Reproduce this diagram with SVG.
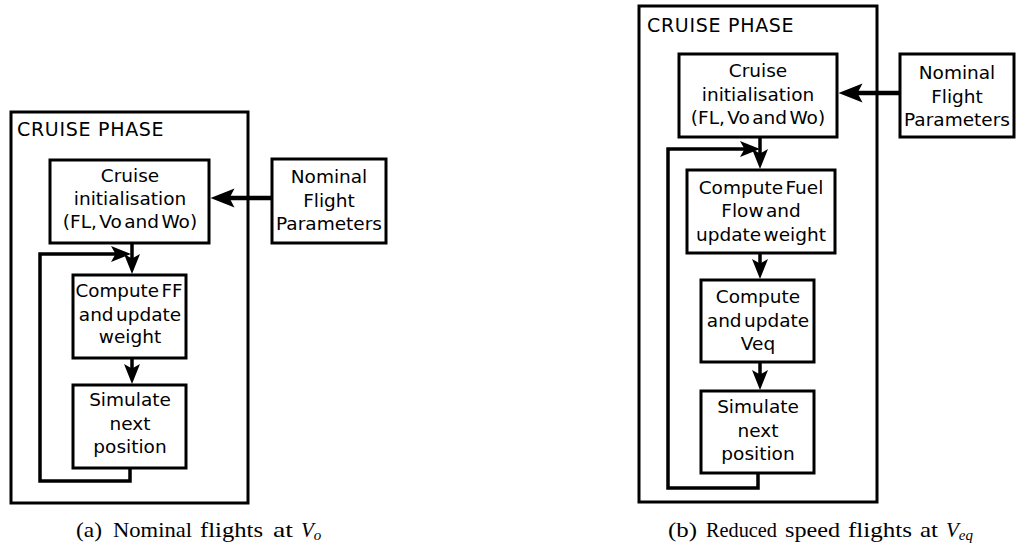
<svg xmlns="http://www.w3.org/2000/svg" width="1019" height="549" viewBox="0 0 1019 549">
<style>
.box{fill:#fff;stroke:#000;stroke-width:3}
.frame{fill:none;stroke:#000;stroke-width:3}
.t{font-family:"DejaVu Sans",sans-serif;font-size:18.5px;word-spacing:-3.5px;fill:#000;text-anchor:middle}
.hdr{font-family:"DejaVu Sans",sans-serif;font-size:19px;letter-spacing:0.7px;fill:#000}
.cap{font-family:"Liberation Serif",serif;font-size:21px;fill:#000}
.ln{fill:none;stroke:#000;stroke-width:3.5;stroke-linejoin:miter}
.lnb{fill:none;stroke:#000;stroke-width:4.5}
</style>
<defs>
<marker id="ah" markerUnits="userSpaceOnUse" markerWidth="21" markerHeight="17" refX="10" refY="8" orient="auto" overflow="visible">
<path d="M0,0 L20,8 L0,16 L4.5,8 Z" fill="#000"/>
</marker>
<marker id="ahb" markerUnits="userSpaceOnUse" markerWidth="25" markerHeight="20" refX="12" refY="9.5" orient="auto" overflow="visible">
<path d="M0,0 L24,9.5 L0,19 L5,9.5 Z" fill="#000"/>
</marker>
</defs>

<!-- Left diagram -->
<g id="left-frame">
<rect class="frame" x="11" y="112" width="237" height="391"/>
<text class="hdr" x="17" y="136">CRUISE PHASE</text>
</g>
<g id="left-init">
<rect class="box" x="50" y="160" width="159" height="83"/>
<text class="t" x="130" y="182">Cruise</text>
<text class="t" x="130" y="205">initialisation</text>
<text class="t" x="130" y="228">(FL, Vo and Wo)</text>
</g>
<g id="left-nominal">
<rect class="box" x="272" y="159" width="114" height="84"/>
<text class="t" x="329" y="183">Nominal</text>
<text class="t" x="329" y="207">Flight</text>
<text class="t" x="329" y="230">Parameters</text>
</g>
<g id="left-ff">
<rect class="box" x="73" y="275" width="113" height="83"/>
<text class="t" x="129" y="297" textLength="107" lengthAdjust="spacingAndGlyphs">Compute FF</text>
<text class="t" x="130" y="321">and update</text>
<text class="t" x="130" y="343">weight</text>
</g>
<g id="left-sim">
<rect class="box" x="73" y="385" width="113" height="83"/>
<text class="t" x="130" y="406">Simulate</text>
<text class="t" x="130" y="430">next</text>
<text class="t" x="130" y="453">position</text>
</g>

<!-- Right diagram -->
<g id="right-frame">
<rect class="frame" x="639" y="6" width="238" height="496"/>
<text class="hdr" x="647" y="32">CRUISE PHASE</text>
</g>
<g id="right-init">
<rect class="box" x="679" y="54" width="158" height="83"/>
<text class="t" x="758" y="77">Cruise</text>
<text class="t" x="758" y="101">initialisation</text>
<text class="t" x="758" y="124">(FL, Vo and Wo)</text>
</g>
<g id="right-nominal">
<rect class="box" x="900" y="54" width="114" height="83"/>
<text class="t" x="957" y="79">Nominal</text>
<text class="t" x="957" y="103">Flight</text>
<text class="t" x="957" y="126">Parameters</text>
</g>
<g id="right-ff">
<rect class="box" x="687" y="170" width="148" height="83"/>
<text class="t" x="761" y="194">Compute Fuel</text>
<text class="t" x="761" y="217">Flow and</text>
<text class="t" x="761" y="241">update weight</text>
</g>
<g id="right-veq">
<rect class="box" x="701" y="280" width="113" height="82"/>
<text class="t" x="758" y="303">Compute</text>
<text class="t" x="758" y="327">and update</text>
<text class="t" x="758" y="350">Veq</text>
</g>
<g id="right-sim">
<rect class="box" x="701" y="391" width="113" height="82"/>
<text class="t" x="758" y="413">Simulate</text>
<text class="t" x="758" y="437">next</text>
<text class="t" x="758" y="460">position</text>
</g>

<g id="connectors">
<path class="lnb" d="M272,198 H222.5" marker-end="url(#ahb)"/>
<path class="ln" d="M132,243 V264" marker-end="url(#ah)"/>
<path class="ln" d="M132,358 V374" marker-end="url(#ah)"/>
<path class="ln" d="M130,468 V481 H40 V254 H121" marker-end="url(#ah)"/>

<path class="lnb" d="M900,93 H850.5" marker-end="url(#ahb)"/>
<path class="ln" d="M760,137 V159" marker-end="url(#ah)"/>
<path class="ln" d="M760,253 V269" marker-end="url(#ah)"/>
<path class="ln" d="M760,362 V380" marker-end="url(#ah)"/>
<path class="ln" d="M758,473 V488 H668 V149 H750" marker-end="url(#ah)"/>
</g>

<g id="captions">
<text class="cap" y="537"><tspan x="76" textLength="26" lengthAdjust="spacingAndGlyphs">(a)</tspan><tspan x="113" textLength="79" lengthAdjust="spacingAndGlyphs">Nominal</tspan><tspan x="200" textLength="63" lengthAdjust="spacingAndGlyphs">flights</tspan><tspan x="273" textLength="20" lengthAdjust="spacingAndGlyphs">at</tspan><tspan x="301" font-style="italic">V</tspan><tspan font-style="italic" font-size="15" dy="3">o</tspan></text>
<text class="cap" y="537"><tspan x="668" textLength="29" lengthAdjust="spacingAndGlyphs">(b)</tspan><tspan x="706" textLength="71" lengthAdjust="spacingAndGlyphs">Reduced</tspan><tspan x="785" textLength="55" lengthAdjust="spacingAndGlyphs">speed</tspan><tspan x="848" textLength="64" lengthAdjust="spacingAndGlyphs">flights</tspan><tspan x="920" textLength="18" lengthAdjust="spacingAndGlyphs">at</tspan><tspan x="946" font-style="italic">V</tspan><tspan font-style="italic" font-size="15" dy="3">eq</tspan></text>
</g>
</svg>
